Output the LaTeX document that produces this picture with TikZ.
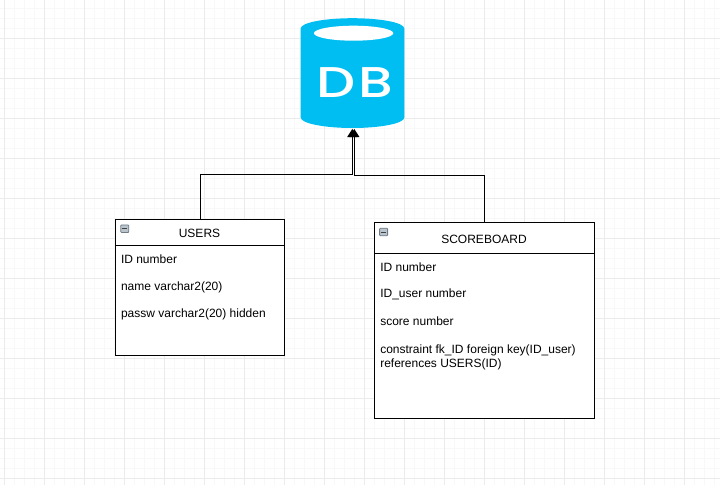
\documentclass[tikz,border=0pt]{standalone}
\usepackage{fontspec}
\setmainfont{Liberation Sans}
\newfontfamily\logofont{Poppins Medium}
\usetikzlibrary{arrows.meta,calc}
\definecolor{dbblue}{HTML}{00BEF2}
\definecolor{gridmajor}{HTML}{EBEBEB}
\definecolor{gridminor}{HTML}{F8F8F8}
\definecolor{iconfill}{HTML}{B9C4CC}
\definecolor{iconline}{HTML}{6F7C86}
\tikzset{
  x=1pt,y=-1pt,
  every node/.style={inner sep=0pt,outer sep=0pt,font=\fontsize{12}{14}\selectfont,text=black},
  tablebox/.style={draw=black,line width=1pt,fill=white,rectangle},
  headrule/.style={draw=black,line width=1pt},
  conn/.style={draw=black,line width=1pt,-{Triangle[length=8pt,width=10pt]}},
  row/.style={anchor=base west},
  title/.style={anchor=base},
  dbshape/.style={rectangle,minimum width=103.6pt,minimum height=110pt},
  iconbox/.style={draw=iconline,line width=.8pt,fill=iconfill,rounded corners=.8pt,rectangle,minimum width=8pt,minimum height=7.6pt},
  iconbar/.style={draw=black!75,line width=1pt}
}
\begin{document}
\begin{tikzpicture}
\useasboundingbox (0,0) rectangle (720,485);
\fill[white] (0,0) rectangle (720,485);
% grid
\foreach \i in {0,...,72}{\draw[gridminor,line width=1pt] ({4.5+10*\i},0) -- ({4.5+10*\i},485);}
\foreach \j in {0,...,48}{\draw[gridminor,line width=1pt] (0,{8.5+10*\j}) -- (720,{8.5+10*\j});}
\foreach \i in {0,...,18}{\draw[gridmajor,line width=1pt] ({4.5+40*\i},0) -- ({4.5+40*\i},485);}
\foreach \j in {0,...,12}{\draw[gridmajor,line width=1pt] (0,{38.5+40*\j}) -- (720,{38.5+40*\j});}
% database
\node[dbshape] (db) at (352.5,73) {};
\fill[dbblue] (300.7,28.5) .. controls (300.7,22.5) and (325,18.2) .. (352.5,18.2)
  .. controls (380,18.2) and (404.3,22.5) .. (404.3,28.5) -- (404.3,117.5)
  .. controls (404.3,123.5) and (380,128) .. (352.5,128)
  .. controls (325,128) and (300.7,123.5) .. (300.7,117.5) -- cycle;
\fill[white] (353.6,33.2) ellipse [x radius=39.7,y radius=7.5];
\node[anchor=base,text=white,xscale=1.28] (dbtext) at (354.6,97.6) {\fontsize{43}{43}\logofont D\kern2pt B};
% tables
\node[tablebox,minimum width=168.8pt,minimum height=136pt] (users) at (199.9,287.3) {};
\node[tablebox,minimum width=220.4pt,minimum height=196pt] (score) at (484.5,320.3) {};
\draw[headrule] (users.west |- 0,245) -- (users.east |- 0,245);
\draw[headrule] (score.west |- 0,253.3) -- (score.east |- 0,253.3);
% collapse icons
\node[iconbox] (iconu) at (124.8,228.7) {};
\draw[iconbar] ([xshift=-2.4pt]iconu.center) -- ([xshift=2.4pt]iconu.center);
\node[iconbox] (icons) at (383.6,232) {};
\draw[iconbar] ([xshift=-2.4pt]icons.center) -- ([xshift=2.4pt]icons.center);
% users text
\node[title] (utitle) at (199.5,237) {USERS};
\node[row] (u1) at (121,263.3) {ID number};
\node[row] (u2) at (121,290) {name varchar2(20)};
\node[row] (u3) at (121,317.3) {passw varchar2(20) hidden};
% scoreboard text
\node[title] (stitle) at (484,243.3) {SCOREBOARD};
\node[row] (s1) at (380.3,271) {ID number};
\node[row] (s2) at (380.3,297) {ID\_user number};
\node[row] (s3) at (380.3,325.3) {score number};
\node[row] (s4) at (380.3,353) {constraint fk\_ID foreign key(ID\_user)};
\node[row] (s5) at (380.3,367) {references USERS(ID)};
% connectors
\draw[conn] ([xshift=.7pt]users.north) |- ($(db.south)+(-.2,46.5)$) -- ($(db.south)+(-.2,1)$);
\draw[conn] (score.north) |- ($(db.south)+(1.8,47.2)$) -- ($(db.south)+(1.8,1)$);
\end{tikzpicture}
\end{document}
